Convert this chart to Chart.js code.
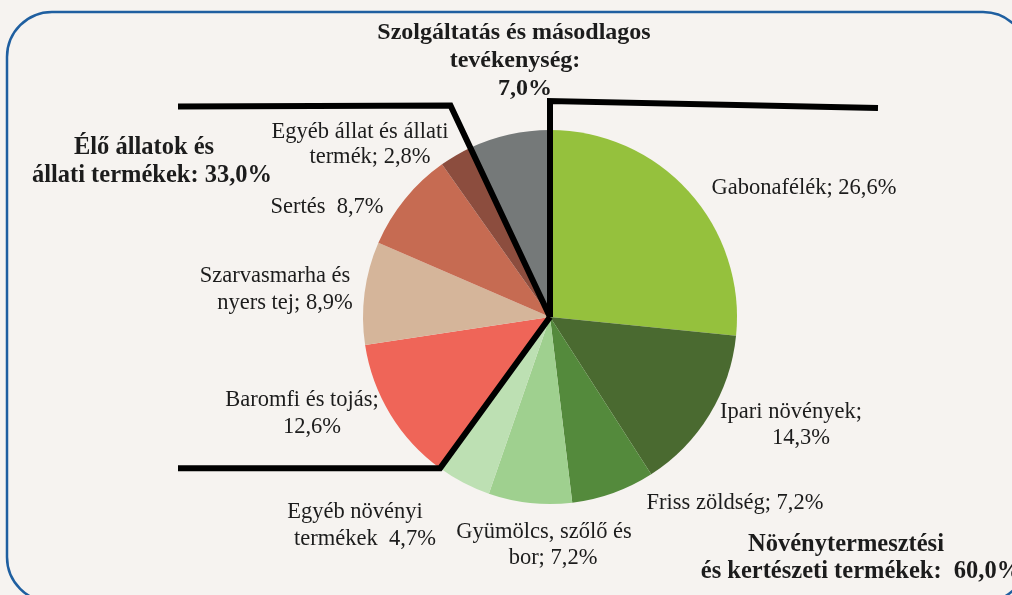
<!DOCTYPE html>
<html>
<head>
<meta charset="utf-8">
<script src="https://cdn.jsdelivr.net/npm/chart.js@4/dist/chart.umd.min.js"></script>
<style>
  html, body { margin: 0; padding: 0; background: #f6f3f0; }
  canvas { display: block; }
</style>
</head>
<body>
<canvas id="myChart" width="1012" height="595"></canvas>
<script>
// categories and shares (%), clockwise from 12 o'clock
const categories = [
  'Gabonafélék', 'Ipari növények', 'Friss zöldség', 'Gyümölcs, szőlő és bor',
  'Egyéb növényi termékek', 'Baromfi és tojás', 'Szarvasmarha és nyers tej',
  'Sertés', 'Egyéb állat és állati termék', 'Szolgáltatás és másodlagos tevékenység'
];
const shares = [26.6, 14.3, 7.2, 7.2, 4.7, 12.6, 8.9, 8.7, 2.8, 7.0];
const sliceColors = [
  '#95c13d', '#4a6a30', '#548a3c', '#9fd08f', '#bde0b3',
  '#ef6558', '#d5b59a', '#c66b52', '#8c4d3e', '#757979'
];

// label text for each slice
const sliceLabels = [
  ['Gabonafélék; 26,6%'],
  ['Ipari növények;', '14,3%'],
  ['Friss zöldség; 7,2%'],
  ['Gyümölcs, szőlő és', 'bor; 7,2%'],
  ['Egyéb növényi', 'termékek  4,7%'],
  ['Baromfi és tojás;', '12,6%'],
  ['Szarvasmarha és', 'nyers tej; 8,9%'],
  ['Sertés  8,7%'],
  ['Egyéb állat és állati', 'termék; 2,8%'],
  ['Szolgáltatás és másodlagos', 'tevékenység:', '7,0%']
];
// group totals
const groupLabels = [
  ['Élő állatok és', 'állati termékek: 33,0%'],
  ['Növénytermesztési', 'és kertészeti termékek:  60,0%']
];

// where the texts sit: [centre x of each line], first line y, line step
const labelPos = [
  [[804], 188, 26], [[791, 801], 412, 26], [[735], 503, 26], [[544, 553], 532, 26],
  [[355, 365], 512, 27], [[302, 312], 400, 27], [[275, 285], 276, 27], [[327], 207, 26],
  [[360, 370], 132, 25], [[514, 515, 525], 33, 28]
];
const groupPos = [[[144, 152], 148, 28], [[846, 861], 545, 27]];

function drawLines(chart) {
  const arc = chart.getDatasetMeta(0).data[0];
  const cx = arc.x, cy = arc.y, r = arc.outerRadius;
  const total = shares.reduce((a, b) => a + b, 0);
  const angleAt = i => {
    let s = 0;
    for (let k = 0; k < i; k++) s += shares[k];
    return s / total * Math.PI * 2 - Math.PI / 2;
  };
  const pt = (a, f) => [cx + Math.cos(a) * r * f, cy + Math.sin(a) * r * f];
  const ctx = chart.ctx;
  ctx.save();
  ctx.strokeStyle = '#000';
  ctx.lineWidth = 6;
  ctx.lineJoin = 'miter';
  // crops group: start of first slice
  let p = pt(angleAt(0), 1.155);
  ctx.beginPath();
  ctx.moveTo(878, p[1] + 7);
  ctx.lineTo(p[0], p[1]);
  ctx.lineTo(cx, cy);
  ctx.stroke();
  // livestock group: start of Baromfi
  p = pt(angleAt(5), 1.0);
  ctx.beginPath();
  ctx.moveTo(178, p[1]);
  ctx.lineTo(p[0], p[1]);
  ctx.lineTo(cx, cy);
  ctx.stroke();
  // end of livestock: start of services
  p = pt(angleAt(9), 1.25);
  ctx.beginPath();
  ctx.moveTo(178, p[1] + 1);
  ctx.lineTo(p[0], p[1]);
  ctx.lineTo(cx, cy);
  ctx.stroke();
  ctx.restore();
}

function drawText(ctx, lines, pos, font) {
  ctx.font = font;
  lines.forEach((t, i) => ctx.fillText(t, pos[0][i], pos[1] + i * pos[2]));
}

const decorPlugin = {
  id: 'decor',
  beforeDraw(chart) {
    const ctx = chart.ctx;
    ctx.save();
    ctx.fillStyle = '#f6f3f0';
    ctx.fillRect(0, 0, chart.width, chart.height);
    ctx.strokeStyle = '#1f5fa0';
    ctx.lineWidth = 2.5;
    ctx.beginPath();
    ctx.roundRect(7, 12, 1021, 590, 45);
    ctx.stroke();
    ctx.restore();
  },
  afterDraw(chart) {
    drawLines(chart);
    const ctx = chart.ctx;
    ctx.save();
    ctx.fillStyle = '#1c1c1c';
    ctx.textAlign = 'center';
    ctx.textBaseline = 'middle';
    sliceLabels.forEach((lines, i) => {
      const bold = i === 9;
      drawText(ctx, lines, labelPos[i],
        (bold ? 'bold 24px' : '22.5px') + ' "Liberation Serif", serif');
    });
    groupLabels.forEach((lines, i) => {
      drawText(ctx, lines, groupPos[i], 'bold 24.5px "Liberation Serif", serif');
    });
    ctx.restore();
  }
};

new Chart(document.getElementById('myChart'), {
  type: 'pie',
  data: {
    labels: categories,
    datasets: [{
      data: shares,
      backgroundColor: sliceColors,
      borderWidth: 0
    }]
  },
  options: {
    responsive: false,
    animation: false,
    layout: { padding: { top: 130, bottom: 91, left: 363, right: 275 } },
    plugins: {
      legend: { display: false },
      tooltip: { enabled: false }
    }
  },
  plugins: [decorPlugin]
});
</script>
</body>
</html>
